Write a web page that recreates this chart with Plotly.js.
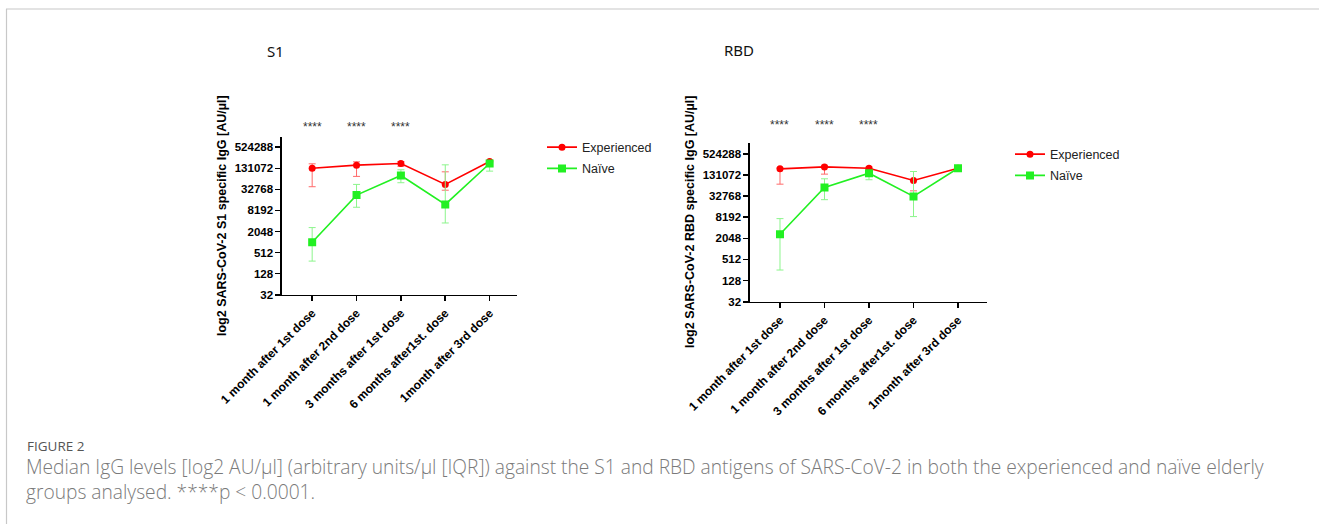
<!DOCTYPE html>
<html>
<head>
<meta charset="utf-8">
<script src="https://cdn.plot.ly/plotly-3.0.1.min.js"></script>
<style>html,body{margin:0;padding:0;background:#fff;}#chart{width:1319px;height:524px;}</style>
</head>
<body>
<div id="chart"></div>
<script>
// ---- data (AU/µl) ----
var timepoints = ["1 month after 1st dose", "1 month after 2nd dose", "3 months after 1st dose", "6 months after1st. dose", "1month after 3rd dose"];
var yTickVals = [32, 128, 512, 2048, 8192, 32768, 131072, 524288];
var yTickText = ["32", "128", "512", "2048", "8192", "32768", "131072", "524288"];

var s1ExpMedian = [131000, 161000, 180000, 45400, 205000];
var s1ExpUpper  = [176000, 201000, 205000, 104000, 220000];
var s1ExpLower  = [39000, 76900, 150000, 31000, 190000];
var s1NaiMedian = [1010, 22500, 81800, 12200, 180000];
var s1NaiUpper  = [2650, 45400, 118900, 164600, 205000];
var s1NaiLower  = [292, 10100, 50700, 3590, 108700];

var rbdExpMedian = [196000, 223000, 204000, 91400, 204000];
var rbdExpUpper  = [205000, 248000, 220000, 164600, 220000];
var rbdExpLower  = [71700, 138500, 185000, 46300, 190000];
var rbdNaiMedian = [2680, 57800, 147000, 32100, 204000];
var rbdNaiUpper  = [7480, 102000, 175000, 164600, 245000];
var rbdNaiLower  = [256, 25900, 95900, 8540, 175000];

var sigLabels = ["****", "****", "****"];

// ---- helpers ----
var W = 1319, H = 524;
function px(x){ return x / W; }
function py(y){ return 1 - y / H; }
function diff(a, b){ return a.map(function(v, i){ return v - b[i]; }); }

var RED = "#ff0000", RED_ERR = "#ff6a6a", GREEN = "#22f022", GREEN_ERR = "#8cf58c";
var FONT = "Arial, 'Liberation Sans', sans-serif";

function trace(name, med, up, lo, xa, ya, color, errColor, symbol, size, legend, group){
  return {
    type: "scatter", mode: "lines+markers", name: name,
    x: timepoints, y: med, xaxis: xa, yaxis: ya,
    line: {color: color, width: 1.6},
    marker: {color: color, symbol: symbol, size: size},
    error_y: {type: "data", symmetric: false, array: diff(up, med), arrayminus: diff(med, lo),
              color: errColor, thickness: 1, width: 3.5},
    legend: legend, legendgroup: group, showlegend: true
  };
}

var data = [
  trace("Experienced", s1ExpMedian, s1ExpUpper, s1ExpLower, "x", "y", RED, RED_ERR, "circle", 7, "legend", "a"),
  trace("Naïve", s1NaiMedian, s1NaiUpper, s1NaiLower, "x", "y", GREEN, GREEN_ERR, "square", 8, "legend", "b"),
  trace("Experienced", rbdExpMedian, rbdExpUpper, rbdExpLower, "x2", "y2", RED, RED_ERR, "circle", 7, "legend2", "c"),
  trace("Naïve", rbdNaiMedian, rbdNaiUpper, rbdNaiLower, "x2", "y2", GREEN, GREEN_ERR, "square", 8, "legend2", "d")
];

function xaxis(dom, range, anchor){
  return {
    domain: dom, anchor: anchor, type: "category", range: range,
    showline: true, linecolor: "#000", linewidth: 1.6, showgrid: false, zeroline: false,
    ticks: "outside", ticklen: 5, tickwidth: 1.6, tickcolor: "#000",
    tickangle: -45, tickfont: {family: FONT, size: 12, color: "#000", weight: "bold"}
  };
}
function yaxis(dom, anchor){
  return {
    domain: dom, anchor: anchor, type: "log", range: [Math.log10(32), Math.log10(1048576)],
    tickvals: yTickVals, ticktext: yTickText,
    showline: true, linecolor: "#000", linewidth: 1.6, showgrid: false, zeroline: false,
    ticks: "outside", ticklen: 5, tickwidth: 1.6, tickcolor: "#000",
    tickfont: {family: FONT, size: 11.5, color: "#000", weight: "bold"}
  };
}

var annotations = [];
// significance stars
[0,1,2].forEach(function(i){
  annotations.push({xref: "x", yref: "paper", x: timepoints[i], y: py(127), yanchor: "middle", text: sigLabels[i], showarrow: false,
    font: {family: FONT, size: 12, color: "#333"}});
  annotations.push({xref: "x2", yref: "paper", x: timepoints[i], y: py(125), yanchor: "middle", text: sigLabels[i], showarrow: false,
    font: {family: FONT, size: 12, color: "#333"}});
});
// panel titles
annotations.push({xref: "paper", yref: "paper", x: px(265), y: py(51), yanchor: "middle", text: "S1", showarrow: false,
  font: {family: "'Noto Sans', 'Liberation Sans', sans-serif", size: 15, color: "#111"}});
annotations.push({xref: "paper", yref: "paper", x: px(739), y: py(50), yanchor: "middle", text: "RBD", showarrow: false,
  font: {family: "'Noto Sans', 'Liberation Sans', sans-serif", size: 15, color: "#111"}});
// y axis titles
annotations.push({xref: "paper", yref: "paper", x: px(222), y: py(216), xanchor: "center", yanchor: "middle", textangle: -90,
  text: "log2 SARS-CoV-2 S1 specific IgG [AU/µl]", showarrow: false,
  font: {family: FONT, size: 12.5, color: "#000", weight: "bold"}});
annotations.push({xref: "paper", yref: "paper", x: px(690), y: py(222), xanchor: "center", yanchor: "middle", textangle: -90,
  text: "log2 SARS-CoV-2 RBD specific IgG [AU/µl]", showarrow: false,
  font: {family: FONT, size: 12.5, color: "#000", weight: "bold"}});
// caption
annotations.push({xref: "paper", yref: "paper", x: px(25), y: py(446), xanchor: "left", yanchor: "middle",
  text: "FIGURE 2", showarrow: false, font: {family: "'Open Sans', Lato, sans-serif", size: 13.5, color: "#555"}});
annotations.push({xref: "paper", yref: "paper", x: px(24), y: py(479), xanchor: "left", yanchor: "middle", align: "left",
  text: "Median IgG levels [log2 AU/µl] (arbitrary units/µl [IQR]) against the S1 and RBD antigens of SARS-CoV-2 in both the experienced and naïve elderly<br>groups analysed. ****p < 0.0001.",
  showarrow: false, font: {family: "'Open Sans', Lato, sans-serif", size: 19.2, color: "#7a7a7a", weight: 300}});

var layout = {
  width: W, height: H, margin: {l: 0, r: 0, t: 0, b: 0},
  paper_bgcolor: "#fff", plot_bgcolor: "#fff",
  xaxis: xaxis([px(282), px(516.7)], [-0.68, 4.61], "y"),
  yaxis: yaxis([py(294.7), py(136.7)], "x"),
  xaxis2: xaxis([px(750), px(986.7)], [-0.674, 4.645], "y2"),
  yaxis2: yaxis([py(301.7), py(143.3)], "x2"),
  legend: {x: px(542), y: py(158), xanchor: "left", yanchor: "middle", bgcolor: "rgba(0,0,0,0)",
           font: {family: FONT, size: 12.5, color: "#222"}, tracegroupgap: 2, itemwidth: 30},
  legend2: {x: px(1010), y: py(165), xanchor: "left", yanchor: "middle", bgcolor: "rgba(0,0,0,0)",
           font: {family: FONT, size: 12.5, color: "#222"}, tracegroupgap: 2, itemwidth: 30},
  annotations: annotations,
  shapes: [
    {type: "line", xref: "paper", yref: "paper", x0: px(6), x1: 1, y0: py(9), y1: py(9), line: {color: "#c8c8c8", width: 1.2}},
    {type: "line", xref: "paper", yref: "paper", x0: px(6.5), x1: px(6.5), y0: py(9), y1: 0, line: {color: "#c8c8c8", width: 1.2}}
  ]
};

Plotly.newPlot("chart", data, layout, {displayModeBar: false, staticPlot: true});
</script>
</body>
</html>
